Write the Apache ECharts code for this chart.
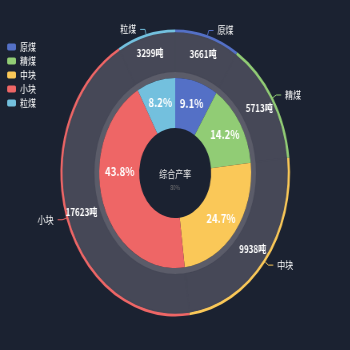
<!DOCTYPE html>
<html>
<head>
<meta charset="utf-8">
<script src="https://cdn.jsdelivr.net/npm/echarts@6/dist/echarts.min.js"></script>
<style>
html,body{margin:0;padding:0;width:350px;height:350px;overflow:hidden;background:#1b2231;}
#chart{width:437.5px;height:350px;transform:scaleX(0.8);transform-origin:0 0;}
</style>
</head>
<body>
<div id="chart"></div>
<script>
const categories = ['原煤','精煤','中块','小块','粒煤'];
const values = [3661,5713,9938,17623,3299];
const colors = ['#5470c6','#91cc75','#fac858','#ee6666','#73c0de'];
const centerTitle = '综合产率';
const centerValue = '80%';

const data = categories.map((c,i)=>({name:c,value:values[i]}));
const innerData = categories.map((c,i)=>{
  const d = {name:c,value:values[i]};
  if (i === 3) d.label = {offset:[0,-25]};
  return d;
});
const font = '"Noto Sans CJK SC", "Noto Sans", sans-serif';
const chart = echarts.init(document.getElementById('chart'));
const cy = 173;
const gray = '#464857';
chart.setOption({
  animation:false,
  backgroundColor:'#1b2231',
  color:colors,
  textStyle:{fontFamily:font},
  legend:{
    orient:'vertical', left:4, top:37,
    itemWidth:11, itemHeight:7, itemGap:4,
    data:categories,
    textStyle:{color:'#fff',fontSize:10,fontFamily:font}
  },
  graphic:[
    {type:'text',left:'center',top:cy-4,style:{text:centerTitle,fill:'#e8e8e8',font:'10px '+font}},
    {type:'text',left:'center',top:cy+12,style:{text:centerValue,fill:'#777',font:'6px '+font}}
  ],
  series:[
    {
      type:'pie', radius:[140,143.5], center:['50%',cy], silent:true,
      startAngle:90, clockwise:true,
      data:data,
      label:{show:true,position:'outside',color:'#fff',fontSize:10,fontFamily:font},
      labelLine:{show:true,length:5,length2:6,lineStyle:{width:1}}
    },
    {
      type:'pie', radius:[101,140], center:['50%',cy], silent:true,
      data:data,
      itemStyle:{color:gray,borderColor:gray,borderWidth:1.5},
      label:{show:true,position:'inside',formatter:'{c}吨',color:'#fff',fontSize:10,fontWeight:'bold',fontFamily:font},
      labelLine:{show:false}
    },
    {
      type:'pie', radius:[95,101], center:['50%',cy], silent:true,
      data:[{name:'',value:1}],
      itemStyle:{color:'#5b5c69'},
      label:{show:false}, labelLine:{show:false}
    },
    {
      type:'pie', radius:[45,95], center:['50%',cy], silent:true,
      percentPrecision:1,
      data:innerData,
      label:{show:true,position:'inside',formatter:'{d}%',color:'#fff',fontSize:12,fontWeight:'bold',fontFamily:font},
      labelLine:{show:false}
    }
  ]
});
</script>
</body>
</html>
